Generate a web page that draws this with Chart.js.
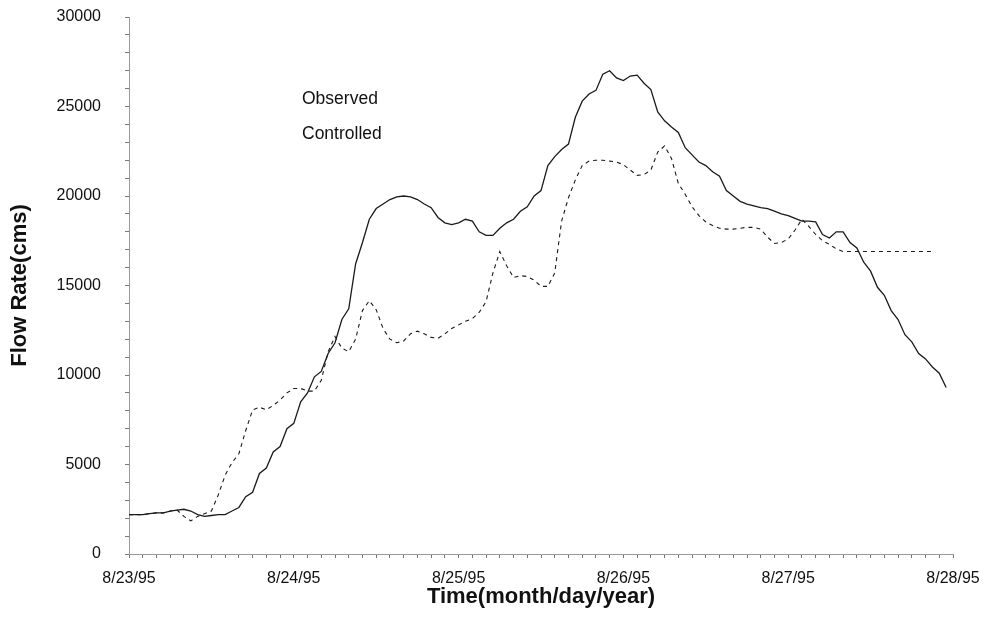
<!DOCTYPE html>
<html>
<head>
<meta charset="utf-8">
<script src="https://cdn.jsdelivr.net/npm/chart.js@4.4.1/dist/chart.umd.min.js"></script>
<style>
  html, body { margin: 0; padding: 0; background: #ffffff; }
  #wrap { width: 984px; height: 626px; }
</style>
</head>
<body>
<div id="wrap"><canvas id="c" width="984" height="626"></canvas></div>
<script>
// Hours since 8/23/95 00:00 (hourly readings)
const hours = Array.from({length: 121}, (_, i) => i);

const dateLabels = ['8/23/95', '8/24/95', '8/25/95', '8/26/95', '8/27/95', '8/28/95'];

const seriesNames = ['Observed', 'Controlled'];

const observed = [
  2200,2200,2200,2250,2300,2300,2400,2450,2500,2400,
  2200,2100,2150,2200,2200,2400,2600,3200,3450,4500,
  4800,5700,6000,7000,7300,8500,9000,9900,10200,11200,
  11800,13100,13700,16200,17400,18700,19300,19550,19800,19950,
  20000,19950,19800,19550,19350,18800,18500,18400,18500,18700,
  18600,18000,17800,17800,18200,18500,18700,19150,19400,20000,
  20300,21700,22200,22600,22900,24400,25300,25700,25900,26800,
  27000,26600,26450,26700,26750,26300,25950,24700,24200,23850,
  23550,22700,22300,21900,21700,21350,21100,20300,20000,19700,
  19550,19450,19350,19300,19150,19000,18900,18750,18600,18600,
  18550,17850,17650,18000,18000,17400,17100,16300,15800,14900,
  14450,13600,13100,12250,11850,11200,10900,10450,10100,9300,
  null
];

const controlled = [
  2200,2200,2200,2250,2300,2300,2400,2450,2100,1850,
  2100,2250,2400,3300,4400,5100,5600,6900,8050,8200,
  8050,8300,8600,9000,9250,9250,9100,9100,9700,11300,
  12150,11500,11300,12000,13600,14150,13650,12600,12000,11800,
  11900,12300,12450,12300,12100,12050,12300,12600,12800,13000,
  13150,13500,14100,15700,16900,16100,15450,15550,15500,15300,
  14950,14950,15700,18600,19900,20900,21700,21950,22000,22000,
  21950,21900,21750,21450,21150,21200,21450,22450,22800,22100,
  20700,20100,19400,18900,18550,18350,18200,18150,18150,18200,
  18250,18250,18150,17700,17350,17400,17600,18100,18700,18300,
  17850,17500,17300,17050,16900,16900,16900,16900,16900,16900,
  16900,16900,16900,16900,16900,16900,16900,16900,null,null,
  null
];

const toPoints = arr => hours.map((h, i) => ({x: h, y: arr[i]}));

const FONT = "'Liberation Sans', Arial, Helvetica, sans-serif";

const legendPlugin = {
  id: 'textLegend',
  afterDraw(chart) {
    const ctx = chart.ctx;
    ctx.save();
    ctx.fillStyle = '#111';
    ctx.font = "17.5px " + FONT;
    ctx.textAlign = 'left';
    ctx.textBaseline = 'middle';
    ctx.fillText(seriesNames[0], 302, 99);
    ctx.fillText(seriesNames[1], 302, 134);
    ctx.restore();
  }
};

new Chart(document.getElementById('c'), {
  type: 'line',
  data: {
    datasets: [
      {
        label: seriesNames[0],
        data: toPoints(observed),
        borderColor: '#1a1a1a',
        borderWidth: 1.3,
        pointRadius: 0,
        tension: 0,
        fill: false,
        spanGaps: false
      },
      {
        label: seriesNames[1],
        data: toPoints(controlled),
        borderColor: '#1a1a1a',
        borderWidth: 1.1,
        borderDash: [4, 4],
        pointRadius: 0,
        tension: 0,
        fill: false,
        spanGaps: false
      }
    ]
  },
  options: {
    responsive: false,
    animation: false,
    layout: { padding: { left: 0, right: 31, top: 17, bottom: 0 } },
    plugins: {
      legend: { display: false },
      tooltip: { enabled: false },
      title: { display: false }
    },
    scales: {
      x: {
        type: 'linear',
        min: 0,
        max: 120,
        afterFit(scale) {
          scale.height = 72;
          scale.paddingLeft = 0;
          scale.paddingRight = 0;
        },
        grid: { display: true, drawOnChartArea: false, drawTicks: true, tickLength: 4, color: '#777' },
        border: { display: true, color: '#999', width: 1 },
        ticks: {
          stepSize: 2,
          autoSkip: false,
          maxRotation: 0,
          padding: 11,
          color: '#111',
          font: { family: FONT, size: 16 },
          callback: v => (v % 24 === 0 ? dateLabels[v / 24] : '')
        },
        title: {
          display: true,
          text: 'Time(month/day/year)',
          color: '#111',
          font: { family: FONT, size: 22, weight: 'bold' },
          padding: { top: 0, bottom: 16 }
        }
      },
      y: {
        type: 'linear',
        min: 0,
        max: 30000,
        afterFit(scale) {
          scale.width = 129;
          scale.paddingTop = 0;
          scale.paddingBottom = 0;
        },
        grid: { display: true, drawOnChartArea: false, drawTicks: true, tickLength: 4, color: '#777' },
        border: { display: true, color: '#999', width: 1 },
        ticks: {
          stepSize: 1000,
          autoSkip: false,
          padding: 24,
          color: '#111',
          font: { family: FONT, size: 16 },
          callback: v => (v % 5000 === 0 ? String(v) : '')
        },
        title: {
          display: true,
          text: 'Flow Rate(cms)',
          color: '#111',
          font: { family: FONT, size: 22, weight: 'bold' },
          padding: { top: 7, bottom: 0 }
        }
      }
    }
  },
  plugins: [legendPlugin]
});
</script>
</body>
</html>
